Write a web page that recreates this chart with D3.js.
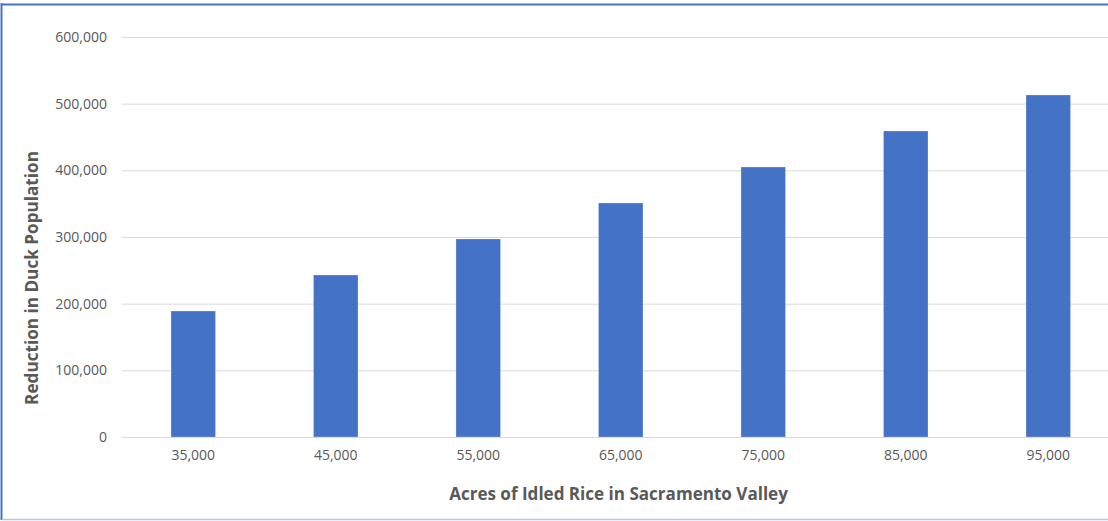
<!DOCTYPE html>
<html><head><meta charset="utf-8">
<script src="https://cdn.jsdelivr.net/npm/d3@7"></script>
<style>html,body{margin:0;padding:0;background:#fff;overflow:hidden}</style>
</head><body>
<svg id="c" width="1108" height="521"></svg>
<script>
const categories = ["35,000","45,000","55,000","65,000","75,000","85,000","95,000"];
const values = [189000, 243000, 297000, 351000, 405000, 459000, 513000];
const yTicks = [0, 100000, 200000, 300000, 400000, 500000, 600000];
const xTitle = "Acres of Idled Rice in Sacramento Valley";
const yTitle = "Reduction in Duck Population";

(function(){
const svg = d3.select("#c");
const pL = 122, pR = 1119.5, pT = 37, pB = 437;
const x = d3.scaleBand().domain(categories).range([pL, pR]).paddingInner(0.6875).paddingOuter(0.34375);
const y = d3.scaleLinear().domain([0, 600000]).range([pB, pT]);
const font = "'Open Sans', 'Segoe UI', sans-serif";
const textCol = "#595959";

// border
svg.append("line").attr("x1",1.5).attr("x2",1.5).attr("y1",3).attr("y2",520).attr("stroke","#4472C4").attr("stroke-width",2);
svg.append("line").attr("x1",1).attr("x2",1108).attr("y1",4.5).attr("y2",4.5).attr("stroke","#4472C4").attr("stroke-width",2);
svg.append("line").attr("x1",2).attr("x2",1108).attr("y1",519.5).attr("y2",519.5).attr("stroke","#B4C7E7").attr("stroke-width",1.5);

// y axis grid + labels
const yAxis = d3.axisLeft(y).tickValues(yTicks).tickSize(-(pR-pL)).tickPadding(15)
  .tickFormat(d3.format(","));
const gy = svg.append("g").attr("transform",`translate(${pL},0)`).call(yAxis);
gy.select(".domain").remove();
gy.selectAll(".tick line").attr("stroke","#d9d9d9").attr("stroke-width",1);
gy.selectAll(".tick text").attr("fill",textCol).attr("font-family",font).attr("font-size",14);

// bars
svg.append("g").selectAll("rect").data(values).join("rect")
  .attr("x",(d,i)=>x(categories[i]))
  .attr("width",x.bandwidth())
  .attr("y",d=>y(d))
  .attr("height",d=>pB-y(d))
  .attr("fill","#4472C4")
  .attr("stroke","#ffffff").attr("stroke-opacity",0.35).attr("stroke-width",0.75);

// x axis
const xAxis = d3.axisBottom(x).tickSize(0).tickPadding(13);
const gx = svg.append("g").attr("transform",`translate(0,${pB})`).call(xAxis);
gx.select(".domain").remove();
gx.selectAll(".tick text").attr("fill",textCol).attr("font-family",font).attr("font-size",14);
svg.append("line").attr("x1",pL).attr("x2",pR).attr("y1",pB+0.5).attr("y2",pB+0.5).attr("stroke","#d9d9d9");

// titles
function fit(t, w){ const L=t.node().getComputedTextLength(); const fs=+t.attr("font-size"); t.attr("font-size", fs*w/L); }
const xt = svg.append("text").attr("x",618.5).attr("y",500).attr("text-anchor","middle")
  .attr("font-family",font).attr("font-weight","bold").attr("font-size",17).attr("fill",textCol).text(xTitle);
fit(xt, 339);
const yt = svg.append("text").attr("transform","translate(38,278) rotate(-90)").attr("text-anchor","middle")
  .attr("font-family",font).attr("font-weight","bold").attr("font-size",17).attr("fill",textCol).text(yTitle);
fit(yt, 254);
})();
</script>
</body></html>
